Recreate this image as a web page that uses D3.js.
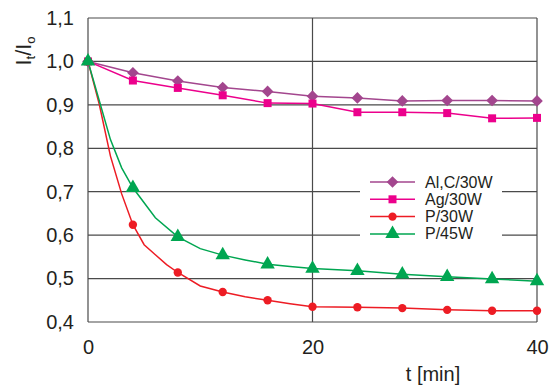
<!DOCTYPE html>
<html><head><meta charset="utf-8">
<script src="https://cdn.jsdelivr.net/npm/d3@7"></script>
<style>body{margin:0;background:#fff}svg{display:block;font-family:"Liberation Sans",Arial,sans-serif}</style>
</head><body>
<svg id="c" width="549" height="390"></svg>
<script>
const markerT = [0,4,8,12,16,20,24,28,32,36,40];
const alcValues = [1.0,0.974,0.955,0.940,0.931,0.920,0.916,0.909,0.910,0.910,0.909];
const agValues  = [1.0,0.956,0.939,0.922,0.904,0.903,0.883,0.883,0.881,0.869,0.870];
const p30Values = [1.0,0.624,0.514,0.469,0.450,0.435,0.434,0.432,0.428,0.426,0.426];
const p45Values = [1.0,0.709,0.596,0.554,0.533,0.523,0.518,0.510,0.504,0.499,0.494];
// dense curve points for the P series lines
const p30LineT = [0,1,2,3,4,5,6,7,8,10,12,14,16,18,20,24,28,32,36,40];
const p30LineV = [1.0,0.902,0.782,0.695,0.624,0.578,0.555,0.532,0.514,0.483,0.469,0.458,0.450,0.442,0.435,0.434,0.432,0.428,0.426,0.426];
const p45LineT = [0,1,2,3,4,6,8,10,12,14,16,18,20,24,28,32,36,40];
const p45LineV = [1.0,0.91,0.82,0.755,0.709,0.640,0.596,0.569,0.554,0.543,0.533,0.528,0.523,0.518,0.510,0.504,0.499,0.494];
const yTicks = [0.4,0.5,0.6,0.7,0.8,0.9,1.0,1.1];
const xTicks = [0,20,40];
const seriesNames = ["Al,C/30W","Ag/30W","P/30W","P/45W"];
const seriesColors = ["#a3468e","#ec008c","#ed1c24","#00a651"];

const svg = d3.select("#c");
const x = d3.scaleLinear().domain([0,40]).range([88,537]);
const y = d3.scaleLinear().domain([0.4,1.1]).range([322,18]);
const fmt = d => d.toFixed(1).replace(".", ",");

// gridlines
const g = svg.append("g");
g.selectAll("line.h").data(yTicks).join("line")
  .attr("x1", x(0)).attr("x2", x(40))
  .attr("y1", d=>y(d)).attr("y2", d=>y(d))
  .attr("stroke", "#4a4a4a").attr("stroke-width", 1.2);
g.selectAll("line.v").data(xTicks).join("line")
  .attr("x1", d=>x(d)).attr("x2", d=>x(d))
  .attr("y1", y(1.1)).attr("y2", y(0.4))
  .attr("stroke", "#4a4a4a").attr("stroke-width", 1.2);

const yAxis = svg.append("g").attr("transform", `translate(${x(0)},0)`)
  .call(d3.axisLeft(y).tickValues(yTicks).tickFormat(fmt).tickSize(0).tickPadding(14));
yAxis.select(".domain").remove();
yAxis.selectAll("text").attr("font-size", 20).attr("fill", "#231f20")
  .attr("font-family", "Liberation Sans, Arial, sans-serif");

const xAxis = svg.append("g").attr("transform", `translate(0,${y(0.4)})`)
  .call(d3.axisBottom(x).tickValues(xTicks).tickFormat(d3.format("d")).tickSize(0).tickPadding(18));
xAxis.select(".domain").remove();
xAxis.selectAll("text").attr("font-size", 20).attr("fill", "#231f20")
  .attr("font-family", "Liberation Sans, Arial, sans-serif");

// legend background
svg.append("rect").attr("x", 360).attr("y", 172).attr("width", 142).attr("height", 71).attr("fill", "#fff");

const line = d3.line().x(d=>x(d[0])).y(d=>y(d[1]));
const zip = (a,b) => a.map((t,i)=>[t,b[i]]);

const lines = [
  zip(markerT, alcValues),
  zip(markerT, agValues),
  zip(p30LineT, p30LineV),
  zip(p45LineT, p45LineV)
];
const markers = [alcValues, agValues, p30Values, p45Values];
const diamond = {draw(ctx, size){ const r = Math.sqrt(size/2); ctx.moveTo(0,-r); ctx.lineTo(r,0); ctx.lineTo(0,r); ctx.lineTo(-r,0); ctx.closePath(); }};
const symbols = [diamond, d3.symbolSquare, d3.symbolCircle, d3.symbolTriangle];
const sizes = [68, 64, 55, 90];

lines.forEach((pts,i)=>{
  svg.append("path").attr("d", line(pts)).attr("fill","none")
    .attr("stroke", seriesColors[i]).attr("stroke-width", 1.5);
});
markers.forEach((vals,i)=>{
  svg.append("g").selectAll("path").data(zip(markerT, vals)).join("path")
    .attr("transform", d=>`translate(${x(d[0])},${y(d[1])})`)
    .attr("d", d3.symbol().type(symbols[i]).size(sizes[i]))
    .attr("fill", seriesColors[i]);
});

// legend
const lg = svg.append("g");
seriesNames.forEach((n,i)=>{
  const ly = 182 + i*17.3;
  lg.append("line").attr("x1",370).attr("x2",415).attr("y1",ly).attr("y2",ly)
    .attr("stroke", seriesColors[i]).attr("stroke-width",1.5);
  lg.append("path").attr("transform",`translate(392.5,${ly})`)
    .attr("d", d3.symbol().type(symbols[i]).size(sizes[i]))
    .attr("fill", seriesColors[i]);
  lg.append("text").attr("x",425).attr("y",ly+5.5).attr("font-size",16)
    .attr("fill","#231f20").text(n);
});

// axis titles
const yl = svg.append("text").attr("transform","translate(31,51) rotate(-90)")
  .attr("text-anchor","middle").attr("font-size",22).attr("fill","#231f20");
yl.append("tspan").text("I");
yl.append("tspan").attr("font-size",13).attr("dy",4).text("t");
yl.append("tspan").attr("dy",-4).text("/I");
yl.append("tspan").attr("font-size",13).attr("dy",4).text("o");

svg.append("text").attr("x",433).attr("y",381).attr("text-anchor","middle")
  .attr("font-size",20).attr("fill","#231f20").text("t [min]");
</script>
</body></html>
